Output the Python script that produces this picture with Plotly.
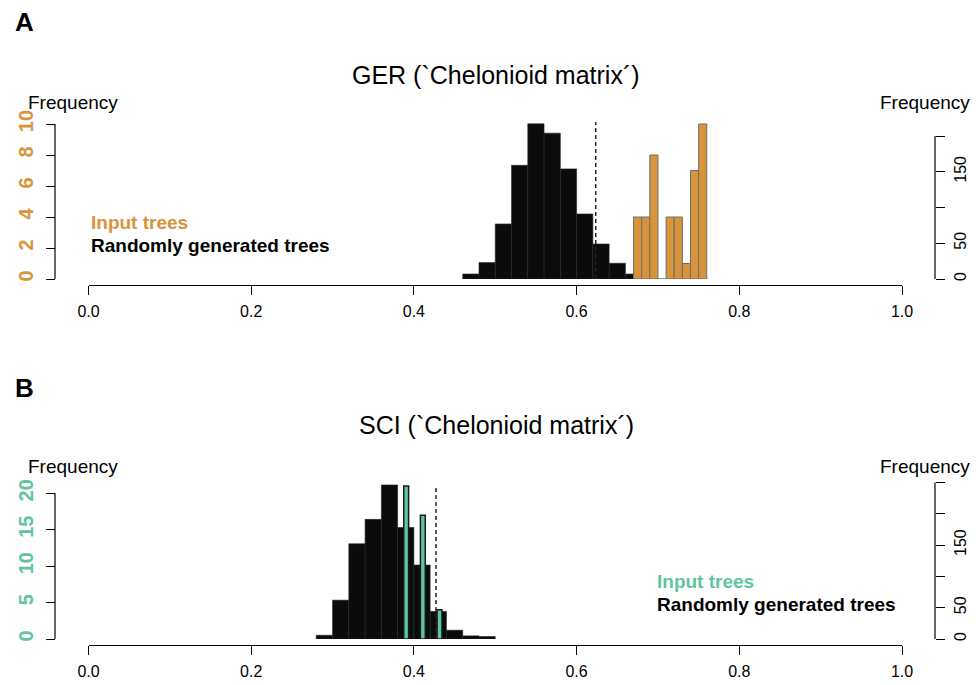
import plotly.graph_objects as go

# ---------------- data ----------------
ger_random_breaks = [0.46, 0.48, 0.50, 0.52, 0.54, 0.56, 0.58, 0.60, 0.62, 0.64, 0.66, 0.68]
ger_random_counts = [7, 23, 77, 159, 217, 204, 154, 91, 49, 22, 7]
ger_input_breaks = [0.67, 0.68, 0.69, 0.70, 0.71, 0.72, 0.73, 0.74, 0.75, 0.76]
ger_input_counts = [4, 4, 8, 0, 4, 4, 1, 7, 10]
ger_dashed = 0.6235

sci_random_breaks = [0.28, 0.30, 0.32, 0.34, 0.36, 0.38, 0.40, 0.42, 0.44, 0.46, 0.48, 0.50]
sci_random_counts = [6, 62, 152, 191, 246, 178, 118, 44, 14, 5, 4]
sci_input_left = [0.3875, 0.4080, 0.4285]
sci_input_right = [0.3935, 0.4140, 0.4345]
sci_input_counts = [21, 17, 4]
sci_dashed = 0.4272

x_ticks = [0.0, 0.2, 0.4, 0.6, 0.8, 1.0]
x_ticklabels = ["0.0", "0.2", "0.4", "0.6", "0.8", "1.0"]
ger_input_ticks = [0, 2, 4, 6, 8, 10]
ger_random_ticks = [0, 50, 100, 150, 200]
ger_random_ticklabels = ["0", "50", "", "150", ""]
sci_input_ticks = [0, 5, 10, 15, 20]
sci_random_ticks = [0, 50, 100, 150, 200, 250]
sci_random_ticklabels = ["0", "50", "", "150", "", ""]

ORANGE = "#D8943A"
TEAL = "#5EC4A1"
FONT = "Liberation Sans, Arial, sans-serif"

W, H = 979, 685


def px(x):
    return x / W


def py(y):
    return 1 - y / H


def centers(br):
    return [(br[i] + br[i + 1]) / 2 for i in range(len(br) - 1)]


def widths(br):
    return [br[i + 1] - br[i] for i in range(len(br) - 1)]


fig = go.Figure()

# Panel A
fig.add_trace(go.Bar(x=centers(ger_random_breaks), y=ger_random_counts, width=widths(ger_random_breaks),
                     marker=dict(color="#0a0b0d", line=dict(color="#262626", width=0.6)),
                     xaxis="x", yaxis="y", showlegend=False))
fig.add_trace(go.Bar(x=centers(ger_input_breaks), y=ger_input_counts, width=widths(ger_input_breaks),
                     marker=dict(color=ORANGE, line=dict(color="#6e6e6e", width=1)),
                     xaxis="x", yaxis="y2", showlegend=False))
# Panel B
fig.add_trace(go.Bar(x=centers(sci_random_breaks), y=sci_random_counts, width=widths(sci_random_breaks),
                     marker=dict(color="#0a0b0d", line=dict(color="#262626", width=0.6)),
                     xaxis="x2", yaxis="y3", showlegend=False))
fig.add_trace(go.Bar(x=[(a + b) / 2 for a, b in zip(sci_input_left, sci_input_right)], y=sci_input_counts,
                     width=[b - a for a, b in zip(sci_input_left, sci_input_right)],
                     marker=dict(color=TEAL, line=dict(color="#1a1a1a", width=1.5)),
                     xaxis="x2", yaxis="y4", showlegend=False))

xdom = [px(88.5), px(902)]
domA = [py(279), py(122)]
domB = [py(639), py(481)]

ger_input_top = (279 - 122) / 15.5
ger_random_top = (279 - 122) / 0.715
sci_input_top = (639 - 481) / 7.285
sci_random_top = (639 - 481) / 0.6264

tickfont_x = dict(family=FONT, size=16, color="#000")
common_x = dict(domain=xdom, range=[0, 1], anchor="free", showline=True, linecolor="#000", linewidth=1.2,
                ticks="outside", ticklen=9, tickwidth=1.2, tickcolor="#000", ticklabelstandoff=3,
                tickvals=x_ticks, ticktext=x_ticklabels, tickfont=tickfont_x,
                showgrid=False, zeroline=False, fixedrange=True)
common_y = dict(anchor="free", showline=False, ticks="outside", ticklen=9, tickwidth=1.2, tickcolor="#000",
                tickangle=-90, showgrid=False, zeroline=False, fixedrange=True)

fig.update_layout(
    width=W, height=H, margin=dict(l=0, r=0, t=0, b=0, autoexpand=False),
    paper_bgcolor="white", plot_bgcolor="rgba(0,0,0,0)",
    barmode="overlay", font=dict(family=FONT, color="#000"),
    xaxis=dict(**common_x, position=py(284.5)),
    xaxis2=dict(**common_x, position=py(644.5)),
    yaxis=dict(**common_y, domain=domA, range=[0, ger_random_top], side="right", position=px(935),
               tickvals=ger_random_ticks, ticktext=ger_random_ticklabels, ticklabelstandoff=2,
               tickfont=dict(family=FONT, size=16, color="#000")),
    yaxis2=dict(**common_y, overlaying="y", range=[0, ger_input_top], side="left", position=px(55),
                tickvals=ger_input_ticks, ticklabelstandoff=5,
                tickfont=dict(family=FONT, size=20, color=ORANGE, weight="bold")),
    yaxis3=dict(**common_y, domain=domB, range=[0, sci_random_top], side="right", position=px(935),
                tickvals=sci_random_ticks, ticktext=sci_random_ticklabels, ticklabelstandoff=2,
                tickfont=dict(family=FONT, size=16, color="#000")),
    yaxis4=dict(**common_y, overlaying="y3", range=[0, sci_input_top], side="left", position=px(55),
                tickvals=sci_input_ticks, ticklabelstandoff=5,
                tickfont=dict(family=FONT, size=20, color=TEAL, weight="bold")),
)

shapes = []
# y-axis lines spanning only the tick range
for yref, top, xpos in [("y2", ger_input_ticks[-1], 55), ("y", ger_random_ticks[-1], 935),
                        ("y4", sci_input_ticks[-1], 55), ("y3", sci_random_ticks[-1], 935)]:
    shapes.append(dict(type="line", xref="paper", yref=yref, x0=px(xpos), x1=px(xpos), y0=0, y1=top,
                       line=dict(color="#000", width=1.2)))
# dashed reference lines
shapes.append(dict(type="line", xref="x", yref="y", x0=ger_dashed, x1=ger_dashed, y0=0, y1=ger_random_top,
                   line=dict(color="#222", width=1.5, dash="4px,3px")))
shapes.append(dict(type="line", xref="x2", yref="y3", x0=sci_dashed, x1=sci_dashed, y0=0,
                   y1=max(sci_random_counts), line=dict(color="#222", width=1.5, dash="4px,3px")))
fig.update_layout(shapes=shapes)

ann = []


def text(x, y, s, size, color="#000", bold=False, xanchor="center"):
    ann.append(dict(x=px(x), y=py(y), xref="paper", yref="paper", text=s, showarrow=False,
                    xanchor=xanchor, yanchor="middle",
                    font=dict(family=FONT, size=size, color=color, weight="bold" if bold else "normal")))


text(24, 22, "A", 26, bold=True)
text(24, 388, "B", 26, bold=True)
text(496, 75, "GER (`Chelonioid matrix´)", 25)
text(496, 425, "SCI (`Chelonioid matrix´)", 25)
for yy in (102, 466):
    text(72.5, yy, "Frequency", 19)
    text(925, yy, "Frequency", 19)
text(89, 222, "Input trees", 19, color=ORANGE, bold=True, xanchor="left")
text(89, 245, "Randomly generated trees", 19, bold=True, xanchor="left")
text(655, 581, "Input trees", 19, color=TEAL, bold=True, xanchor="left")
text(655, 604, "Randomly generated trees", 19, bold=True, xanchor="left")
fig.update_layout(annotations=ann)

fig.write_html("out.html", config={"displayModeBar": False},
               post_script="document.body.style.margin='0';")
